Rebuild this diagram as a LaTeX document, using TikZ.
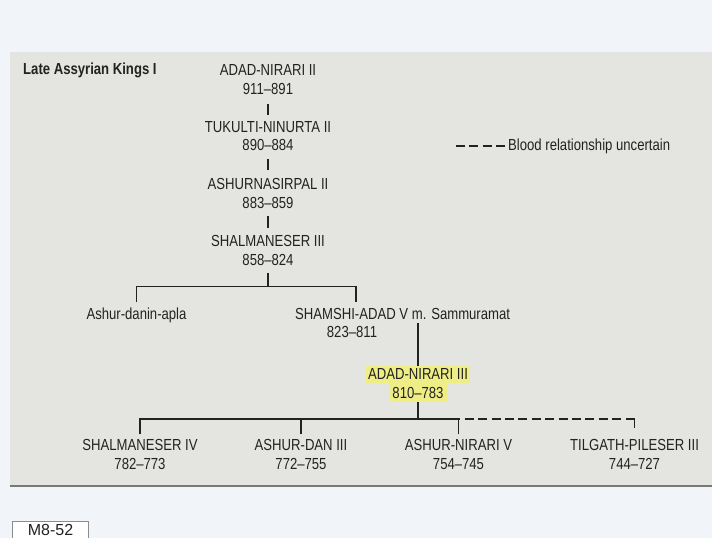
\documentclass[tikz,border=0pt]{standalone}
\usepackage{fontspec}
\setmainfont{Liberation Sans}
\newfontfamily\condfont{Liberation Sans}[FakeStretch=0.82, Ligatures=TeX]
\newcommand\kingfont{\condfont\fontsize{16bp}{18.5bp}\selectfont}
\newcommand\titlefont{\condfont\bfseries\fontsize{16bp}{18.5bp}\selectfont}
\newcommand\tagfont{\fontsize{16bp}{19bp}\selectfont}
\definecolor{pagebg}{RGB}{241,245,250}
\definecolor{photo}{RGB}{228,228,225}
\definecolor{edge}{RGB}{120,120,120}
\definecolor{ink}{RGB}{34,34,34}
\definecolor{hl}{RGB}{239,238,134}
\definecolor{boxline}{RGB}{140,140,140}
\tikzset{
  king/.style={font=\kingfont, text=ink, inner sep=0pt, align=center, anchor=north},
  conn/.style={line width=1.4bp, draw=ink},
  uncertain/.style={conn, dash pattern=on 9bp off 4.4bp},
  highlighted/.style={fill=hl, inner ysep=0pt, anchor=base},
}
\begin{document}
\begin{tikzpicture}[x=1bp, y=-1bp]
\clip (0,0) rectangle (712,538);
\fill[pagebg] (0,0) rectangle (712,538);
\fill[photo] (10,52) rectangle (712,486);
\draw[edge, line width=1.5bp] (10,486) -- (712,486);

% title
\node[font=\titlefont, text=ink, inner sep=0pt, anchor=base west] (title) at (23,75) {Late Assyrian Kings I};

% legend
\coordinate (legstart) at (456,146);
\node[king, anchor=base west, inner xsep=3bp] (legend) at (505,150.8) {Blood relationship uncertain};
\draw[uncertain] (legstart) -- (legstart -| legend.west);

% main line
\node[king] (a1) at (268,64.5) {ADAD-NIRARI II\\911–891};
\node[king] (a2) at (268,121) {TUKULTI-NINURTA II\\890–884};
\node[king] (a3) at (268,178.5) {ASHURNASIRPAL II\\883–859};
\node[king] (a4) at (268,235.5) {SHALMANESER III\\858–824};

\draw[conn] ([yshift=-9bp]a1.south) -- ([yshift=6bp]a2.north);
\draw[conn] ([yshift=-8bp]a2.south) -- ([yshift=8bp]a3.north);
\draw[conn] ([yshift=-7bp]a3.south) -- ([yshift=7.5bp]a4.north);

% second generation
\node[king] (adp) at (136.5,307.5) {Ashur-danin-apla};
\node[king, anchor=north west] (sh) at (295,308) {SHAMSHI-ADAD V m. Sammuramat};
\node[king] (shd) at (352,326.5) {823–811};
\coordinate (shtop) at (356,302);

\path (a4.south) ++(0,21) coordinate (fork1);
\draw[conn] ([yshift=-7bp]a4.south) -- (fork1);
\draw[conn] ([yshift=5.5bp]adp.north) |- (fork1) -| (shtop);

% Adad-nirari III
\node[king, highlighted, text height=13.5bp, text depth=3bp, inner xsep=2bp] (an3) at (418,379.8) {ADAD-NIRARI III};
\node[king, highlighted, text height=16bp, text depth=3.5bp, inner xsep=3bp] (an3d) at (418,398.3) {810–783};

\draw[conn] ([yshift=-3bp]sh.south -| an3.north) -- (an3.north);

% third generation
\node[king] (s4) at (140,439.5) {SHALMANESER IV\\782–773};
\node[king] (ad3) at (301,439.5) {ASHUR-DAN III\\772–755};
\node[king] (anv) at (458.5,439.5) {ASHUR-NIRARI V\\754–745};
\node[king] (tp3) at (634.5,439.5) {TILGATH-PILESER III\\744–727};

\path (an3d.south) ++(0,17) coordinate (fork2);
\draw[conn] (an3d.south) -- (fork2);
\draw[conn] ([yshift=5.5bp]s4.north) |- (fork2) -| ([yshift=5.5bp]anv.north);
\draw[conn] ([yshift=5.5bp]ad3.north) -- (ad3.north |- fork2);
\coordinate (corner) at (fork2 -| tp3.north);
\draw[uncertain, dash phase=7.2bp] (fork2 -| anv.north) -- (corner);
\draw[uncertain] (corner) -- ([yshift=7.5bp]tp3.north);

% tag box
\node[draw=boxline, line width=1bp, fill=white, font=\tagfont, text=ink, inner ysep=0pt,
      text height=14bp, text depth=10bp,
      minimum width=76bp, anchor=north west] (tag) at (12,521) {M8-52};
\end{tikzpicture}
\end{document}
